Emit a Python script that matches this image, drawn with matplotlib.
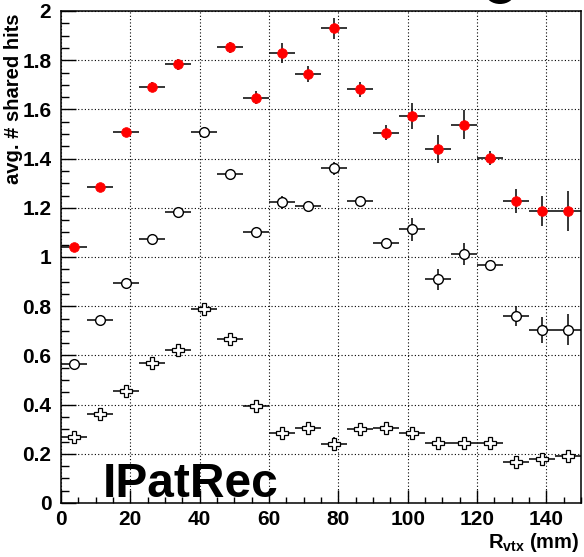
import numpy as np
import matplotlib
matplotlib.use("Agg")
import matplotlib.pyplot as plt
from matplotlib.patches import Ellipse

plt.rcParams['font.family'] = ['Liberation Sans', 'DejaVu Sans']
plt.rcParams['font.weight'] = 'bold'
plt.rcParams['mathtext.fontset'] = 'custom'
plt.rcParams['mathtext.rm'] = 'Liberation Sans:bold'
plt.rcParams['mathtext.bf'] = 'Liberation Sans:bold'

# bins of 7.5 mm from 0 to 150
bin_lo = np.arange(0, 150, 7.5)
x = bin_lo + 3.75
xerr = 3.75

# red filled circles
red_y = [1.04, 1.285, 1.51, 1.69, 1.783, np.nan, 1.852, 1.648, 1.829, 1.744,
         1.930, 1.682, 1.505, 1.572, 1.439, 1.538, 1.404, 1.228, 1.188, 1.188]
red_err = [0.005, 0.008, 0.012, 0.02, 0.022, np.nan, 0.024, 0.025, 0.039, 0.034,
           0.043, 0.031, 0.03, 0.052, 0.056, 0.059, 0.028, 0.05, 0.062, 0.081]

# open circles
circ_y = [0.566, 0.743, 0.896, 1.073, 1.183, 1.509, 1.337, 1.103, 1.222, 1.207,
          1.360, 1.226, 1.058, 1.112, 0.909, 1.011, 0.967, 0.761, 0.705, 0.705]
circ_err = [0.004, 0.005, 0.007, 0.008, 0.01, 0.012, 0.012, 0.014, 0.027, 0.014,
            0.027, 0.014, 0.014, 0.045, 0.044, 0.045, 0.012, 0.04, 0.053, 0.064]

# open crosses
cross_y = [0.270, 0.363, 0.455, 0.570, 0.622, 0.790, 0.665, 0.394, 0.283, 0.304,
           0.241, 0.300, 0.304, 0.283, 0.245, 0.245, 0.245, 0.168, 0.178, 0.192]
cross_err = [0.006, 0.007, 0.008, 0.01, 0.01, 0.01, 0.012, 0.01, 0.012, 0.018,
             0.027, 0.015, 0.02, 0.012, 0.01, 0.01, 0.01, 0.015, 0.018, 0.025]

W, H = 584, 557
fig = plt.figure(figsize=(W/100, H/100), dpi=100)
ax = fig.add_axes([61/W, 1-503/H, 520/W, 492/H])

ax.errorbar(x, circ_y, xerr=xerr, yerr=circ_err, fmt='o', ms=7, mfc='white',
            mec='black', mew=1, ecolor='black', elinewidth=1.1, capsize=0, zorder=3)
ax.errorbar(x, cross_y, xerr=xerr, yerr=cross_err, fmt='P', ms=8, mfc='white',
            mec='black', mew=0.9, ecolor='black', elinewidth=1.1, capsize=0, zorder=3)
ax.errorbar(x, red_y, xerr=xerr, yerr=red_err, fmt='o', ms=7, mfc='red',
            mec='red', mew=0.5, ecolor='black', elinewidth=1.1, capsize=0, zorder=4)

ax.set_xlim(0, 150)
ax.set_ylim(0, 2)
ax.set_xticks(np.arange(0, 141, 20))
ax.set_xticks(np.arange(0, 151, 5), minor=True)
ax.set_yticks(np.arange(0, 2.01, 0.2))
ax.set_yticks(np.arange(0, 2.01, 0.05), minor=True)
ax.set_yticklabels(['0', '0.2', '0.4', '0.6', '0.8', '1', '1.2', '1.4', '1.6', '1.8', '2'])
ax.set_xticklabels(['0', '20', '40', '60', '80', '100', '120', '140'])

ax.tick_params(axis='x', which='major', direction='in', length=9.5, width=1,
               labelsize=15, pad=5, top=False)
ax.tick_params(axis='x', which='minor', direction='in', length=4.5, width=1, top=False)
ax.tick_params(axis='y', which='major', direction='in', length=11, width=1,
               labelsize=15, pad=7, right=False)
ax.tick_params(axis='y', which='minor', direction='in', length=5.5, width=1, right=False)

ax.grid(True, which='major', color='black', linestyle=(0, (1, 2)), linewidth=0.8)
ax.set_axisbelow(True)
for s in ax.spines.values():
    s.set_linewidth(1.1)

fig.text(14/W, 1-14/H, 'avg. # shared hits', rotation=90, ha='center', va='top',
         fontsize=14.5, fontweight='bold')
fig.text(579/W, 1-548/H, r'R$_{\rm vtx}$ (mm)', ha='right', va='baseline',
         fontsize=14.5, fontweight='bold')
ax.text(103/W, 1-497/H, 'IPatRec', transform=fig.transFigure, ha='left',
        va='baseline', fontsize=34.5, fontweight='bold', zorder=5)

# cut-off mark at the top edge
fig.patches.append(Ellipse((500/W, 1+6/H), 28/W, 20/H, transform=fig.transFigure,
                           facecolor='black', edgecolor='none'))

fig.savefig('out.png', dpi=100)
